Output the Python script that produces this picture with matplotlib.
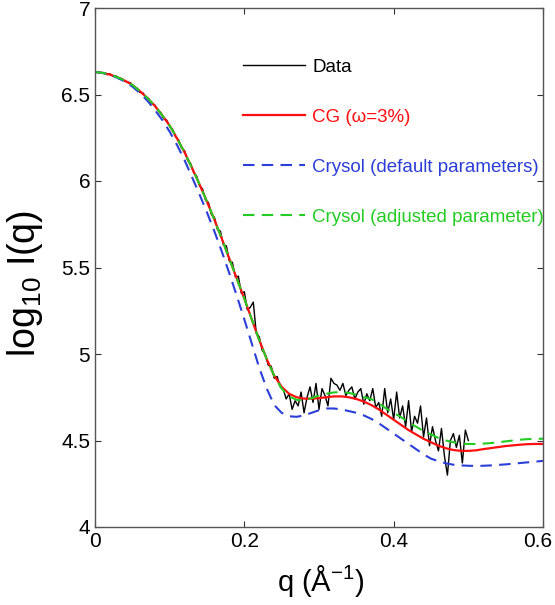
import numpy as np
import matplotlib
matplotlib.use("Agg")
import matplotlib.pyplot as plt
from matplotlib.transforms import ScaledTranslation

plt.rcParams['font.family'] = ['Liberation Sans', 'DejaVu Sans']
plt.rcParams['mathtext.fontset'] = 'custom'
plt.rcParams['mathtext.rm'] = 'Liberation Sans'

# model curves, sampled every 0.01 in q
q_model = np.round(np.arange(0.0, 0.6001, 0.01), 3)

cg_vals = [6.63, 6.625, 6.615, 6.60, 6.58, 6.555, 6.52, 6.48, 6.435, 6.38,
           6.32, 6.245, 6.165, 6.075, 5.98, 5.88, 5.775, 5.665, 5.55, 5.435,
           5.32, 5.20, 5.08, 4.97, 4.875, 4.81, 4.77, 4.75, 4.742, 4.742,
           4.745, 4.75, 4.755, 4.755, 4.75, 4.74, 4.725, 4.705, 4.68, 4.65,
           4.62, 4.59, 4.56, 4.535, 4.51, 4.49, 4.47, 4.455, 4.445, 4.44,
           4.44, 4.443, 4.45, 4.456, 4.462, 4.468, 4.472, 4.476, 4.479, 4.48,
           4.48]

crysol_default = [6.63, 6.625, 6.613, 6.597, 6.574, 6.546, 6.509, 6.465, 6.412, 6.353,
                  6.285, 6.207, 6.12, 6.022, 5.922, 5.818, 5.708, 5.59, 5.465, 5.335,
                  5.20, 5.06, 4.92, 4.80, 4.705, 4.66, 4.64, 4.637, 4.645, 4.66,
                  4.675, 4.685, 4.685, 4.68, 4.67, 4.66, 4.645, 4.625, 4.60, 4.57,
                  4.54, 4.51, 4.48, 4.45, 4.42, 4.395, 4.38, 4.368, 4.36, 4.356,
                  4.354, 4.353, 4.354, 4.356, 4.359, 4.362, 4.366, 4.37, 4.374, 4.378,
                  4.382]

crysol_adjusted = [6.63, 6.625, 6.615, 6.60, 6.58, 6.555, 6.52, 6.48, 6.435, 6.38,
                   6.32, 6.245, 6.165, 6.075, 5.98, 5.88, 5.775, 5.665, 5.55, 5.435,
                   5.32, 5.20, 5.08, 4.97, 4.875, 4.80, 4.755, 4.735, 4.735, 4.745,
                   4.76, 4.77, 4.778, 4.78, 4.775, 4.765, 4.75, 4.74, 4.715, 4.685,
                   4.66, 4.635, 4.605, 4.58, 4.555, 4.535, 4.515, 4.50, 4.49, 4.482,
                   4.48, 4.48, 4.482, 4.485, 4.49, 4.495, 4.50, 4.505, 4.508, 4.51,
                   4.51]

# measured data, every 0.004 from q = 0.012 to 0.5
q_data = np.round(np.arange(0.012, 0.5001, 0.004), 4)
data_vals = [6.625, 6.615, 6.62, 6.605, 6.608, 6.59, 6.593, 6.576, 6.572, 6.566,
             6.545, 6.538, 6.512, 6.51, 6.485, 6.476, 6.448, 6.44, 6.41, 6.396,
             6.36, 6.352, 6.315, 6.298, 6.255, 6.236, 6.19, 6.175, 6.12, 6.102,
             6.05, 6.03, 5.972, 5.955, 5.89, 5.875, 5.805, 5.79, 5.72, 5.71,
             5.63, 5.625, 5.535, 5.53, 5.445, 5.45, 5.35, 5.36, 5.255, 5.27,
             5.30, 5.12, 5.10, 5.02, 5.00, 4.935, 4.93, 4.86, 4.87, 4.81,
             4.80, 4.74, 4.77, 4.68, 4.73, 4.70, 4.78, 4.66, 4.75, 4.81,
             4.72, 4.83, 4.68, 4.80, 4.76, 4.70, 4.86, 4.83, 4.82, 4.79,
             4.83, 4.76, 4.79, 4.81, 4.74, 4.78, 4.80, 4.71, 4.77, 4.73,
             4.80, 4.69, 4.72, 4.64, 4.80, 4.66, 4.74, 4.62, 4.78, 4.63,
             4.70, 4.58, 4.73, 4.55, 4.64, 4.60, 4.70, 4.52, 4.63, 4.47,
             4.58, 4.50, 4.44, 4.57, 4.41, 4.30, 4.50, 4.54, 4.46, 4.53,
             4.37, 4.56, 4.50]
assert len(q_data) == len(data_vals)

x_ticks = [0, 0.2, 0.4, 0.6]
x_tick_labels = ['0', '0.2', '0.4', '0.6']
y_ticks = [4, 4.5, 5, 5.5, 6, 6.5, 7]
y_tick_labels = ['4', '4.5', '5', '5.5', '6', '6.5', '7']

fig = plt.figure(figsize=(5.55, 6.05), dpi=100)
ax = fig.add_axes([95 / 555, 78 / 605, 448 / 555, 519 / 605])

ax.plot(q_data, data_vals, color='black', lw=1.0, label='Data')
ax.plot(q_model, cg_vals, color='#ff1010', lw=1.6, label='CG (\u03c9=3%)')
ax.plot(q_model, crysol_default, color='#2b3fd8', lw=1.5, dashes=(5.5, 3.5),
        label='Crysol (default parameters)')
ax.plot(q_model, crysol_adjusted, color='#22cc22', lw=1.5, dashes=(5.5, 3.5),
        label='Crysol (adjusted parameter)')

ax.set_xlim(0, 0.6)
ax.set_ylim(4, 7)
ax.set_xticks(x_ticks)
ax.set_xticklabels(x_tick_labels)
ax.set_yticks(y_ticks)
ax.set_yticklabels(y_tick_labels)
ax.tick_params(direction='in', top=True, right=True, length=4, width=0.8,
               labelsize=15, colors='#333333', labelcolor='black')
for s in ax.spines.values():
    s.set_color('#555555')
    s.set_linewidth(1.0)

# keep the last x tick label inside the figure
last = ax.get_xticklabels()[-1]
last.set_transform(last.get_transform() + ScaledTranslation(-5 / 100, 0, fig.dpi_scale_trans))

ax.set_xlabel('q (\u00c5$^{\u22121}$)', fontsize=21)
ax.xaxis.set_label_coords(0.504, -0.070)
ax.set_ylabel('log$_{10}$ I(q)', fontsize=27)
ax.yaxis.set_label_coords(-0.112, 0.470)

leg = ax.legend(loc='upper left', bbox_to_anchor=(0.330, 0.902), frameon=False,
                fontsize=13.5, labelspacing=1.75, handlelength=3.3,
                handletextpad=0.4, borderpad=0, borderaxespad=0,
                labelcolor='linecolor')

fig.savefig('out.png', dpi=100)
